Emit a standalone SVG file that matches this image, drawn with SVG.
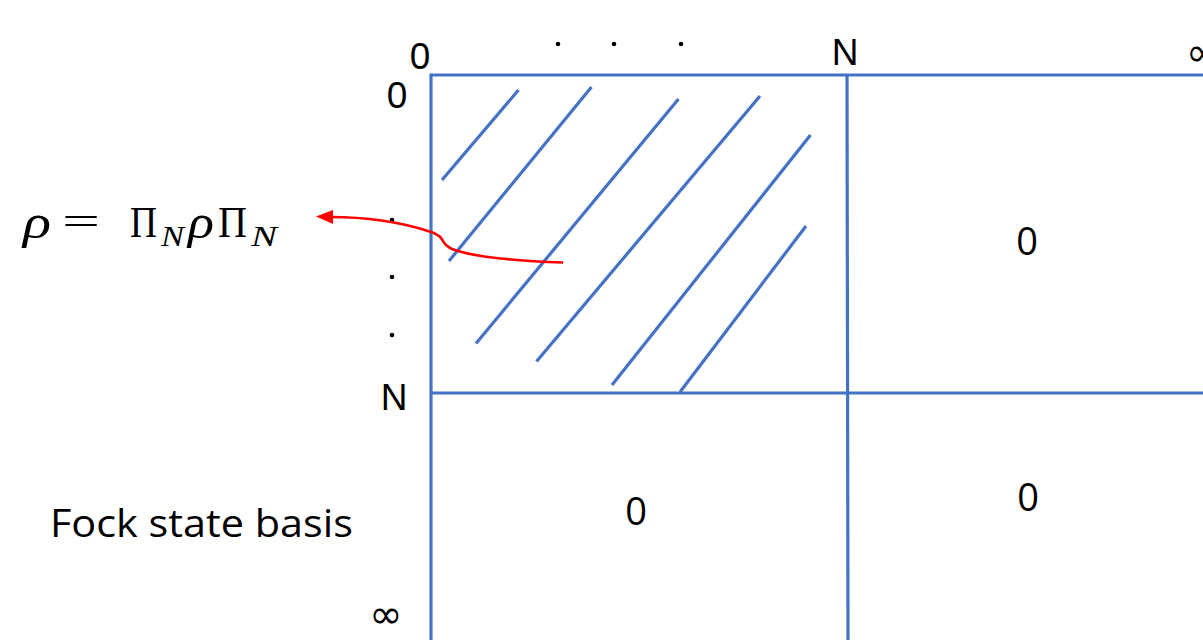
<svg xmlns="http://www.w3.org/2000/svg" width="1203" height="640" viewBox="0 0 1203 640">
<defs>
<style>
.grid{stroke:#4472C4;stroke-width:3.2;fill:none;stroke-linecap:butt}
.hatch{stroke:#4472C4;stroke-width:3.2;fill:none;stroke-linecap:butt}
.lbl{font-family:"Liberation Sans",Arial,sans-serif;font-size:37px;fill:#000;text-anchor:middle}
.inf{font-family:"DejaVu Sans",sans-serif;font-size:40px;fill:#000;text-anchor:middle}
.cal{font-family:"Open Sans","Liberation Sans",sans-serif;font-size:38px;fill:#000;text-anchor:middle}
.math{font-family:"Liberation Serif","DejaVu Serif",serif;fill:#000}
.dot{fill:#000}
</style>
</defs>
<rect width="1203" height="640" fill="#fff"/>
<g id="matrix">
<line class="grid" x1="431" y1="75" x2="1203" y2="75"/>
<line class="grid" x1="431" y1="73.5" x2="431" y2="640"/>
<line class="grid" x1="847" y1="75" x2="848" y2="640"/>
<line class="grid" x1="431" y1="393" x2="1203" y2="393"/>
</g>
<g id="hatch">
<line class="hatch" x1="442" y1="180" x2="518.5" y2="90"/>
<line class="hatch" x1="449" y1="261" x2="591.5" y2="87"/>
<line class="hatch" x1="476" y1="343.5" x2="678.5" y2="99"/>
<line class="hatch" x1="536.5" y1="361.5" x2="760" y2="96"/>
<line class="hatch" x1="612" y1="385" x2="810.5" y2="135"/>
<line class="hatch" x1="680" y1="392" x2="806" y2="226"/>
</g>
<g id="col-labels">
<text class="lbl" x="420" y="69">0</text>
<circle class="dot" cx="558" cy="44" r="2.3"/>
<circle class="dot" cx="614" cy="44" r="2.3"/>
<circle class="dot" cx="681" cy="44" r="2.3"/>
<text class="lbl" x="845" y="65">N</text>
<text class="inf" x="1186" y="66" style="text-anchor:start">∞</text>
</g>
<g id="row-labels">
<text class="lbl" x="397" y="108">0</text>
<circle class="dot" cx="392" cy="220" r="2.3"/>
<circle class="dot" cx="392" cy="277" r="2.3"/>
<circle class="dot" cx="392" cy="335" r="2.3"/>
<text class="lbl" x="394" y="410">N</text>
<text class="inf" x="386" y="628">∞</text>
</g>
<g id="zeros">
<text class="cal" x="1027" y="255">0</text>
<text class="cal" x="636" y="525">0</text>
<text class="cal" x="1028" y="511">0</text>
</g>
<g id="fock-label">
<text class="cal" x="50" y="537" style="text-anchor:start" textLength="303" lengthAdjust="spacingAndGlyphs">Fock state basis</text>
</g>
<g id="formula">
<text class="math" font-size="48" font-style="italic" x="23" y="238" textLength="28" lengthAdjust="spacingAndGlyphs">ρ</text>
<text class="math" font-size="40" x="62" y="235" textLength="38" lengthAdjust="spacingAndGlyphs">=</text>
<text class="math" font-size="44" x="130" y="237" textLength="27" lengthAdjust="spacingAndGlyphs">Π</text>
<text class="math" font-size="30" font-style="italic" x="161" y="246" textLength="23" lengthAdjust="spacingAndGlyphs">N</text>
<text class="math" font-size="48" font-style="italic" x="188" y="238" textLength="26" lengthAdjust="spacingAndGlyphs">ρ</text>
<text class="math" font-size="44" x="218" y="237" textLength="29" lengthAdjust="spacingAndGlyphs">Π</text>
<text class="math" font-size="30" font-style="italic" x="251" y="246" textLength="26" lengthAdjust="spacingAndGlyphs">N</text>
</g>
<g id="connectors">
<path d="M563,262.5 C520,261 475,258 452,249 C442,245 443,238 439,236 C435,233 432,232 428,231 C400,222 368,217 330,217" fill="none" stroke="#FF0000" stroke-width="2.6"/>
<polygon points="316,216.5 333,210 333,224" fill="#FF0000"/>
</g>
</svg>
